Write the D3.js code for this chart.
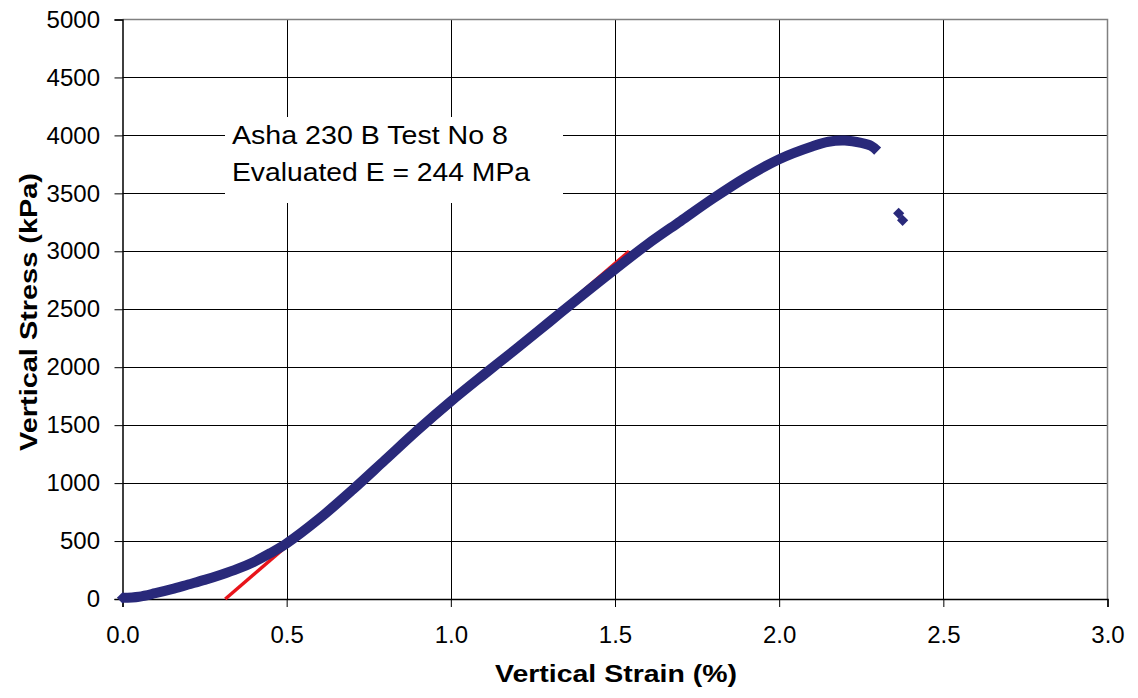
<!DOCTYPE html>
<html>
<head>
<meta charset="utf-8">
<script src="https://cdn.jsdelivr.net/npm/d3@7"></script>
<style>
  body { margin: 0; background: #fff; }
  svg { font-family: Arial, "Liberation Sans", sans-serif; }
</style>
</head>
<body>
<div id="chart"></div>
<script>
// data
var strain = [0, 0.05, 0.1, 0.15, 0.2, 0.25, 0.3, 0.35, 0.4, 0.45, 0.5, 0.6, 0.7, 0.8, 0.9,
  1.0, 1.1, 1.2, 1.3, 1.4, 1.5, 1.6, 1.7, 1.8, 1.9, 2.0, 2.1, 2.15, 2.2, 2.25, 2.28, 2.3];
var stress = [10, 20, 50, 85, 125, 165, 210, 260, 320, 395, 480, 695, 940, 1200, 1460,
  1705, 1935, 2160, 2390, 2620, 2845, 3063, 3261, 3458, 3640, 3795, 3905, 3945, 3955, 3935, 3910, 3865];
var outlierStrain = [2.364, 2.376];
var outlierStress = [3328, 3267];
var fitStrain = [0.313, 1.543];
var fitStress = [0, 3000];
var xTicks = [0, 0.5, 1.0, 1.5, 2.0, 2.5, 3.0];
var yTicks = [0, 500, 1000, 1500, 2000, 2500, 3000, 3500, 4000, 4500, 5000];
var noteLines = ["Asha 230 B Test No 8", "Evaluated E = 244 MPa"];

var width = 1138, height = 698;
var plotL = 122.5, plotR = 1107.5, plotT = 19.5, plotB = 599;

var svg = d3.select('#chart').append('svg')
    .attr('width', width)
    .attr('height', height);

var x = d3.scaleLinear().domain([0, 3]).range([plotL, plotR]);
var y = d3.scaleLinear().domain([0, 5000]).range([plotB, plotT]);

// grid
svg.append('g')
    .selectAll('line')
    .data(yTicks.slice(1, -1))
    .enter().append('line')
        .attr('x1', plotL).attr('x2', plotR)
        .attr('y1', d => Math.round(y(d)) + 0.5).attr('y2', d => Math.round(y(d)) + 0.5)
        .attr('stroke', '#000').attr('stroke-width', 1);
svg.append('g')
    .selectAll('line')
    .data(xTicks.slice(1, -1))
    .enter().append('line')
        .attr('y1', plotT).attr('y2', plotB)
        .attr('x1', d => Math.round(x(d)) + 0.5).attr('x2', d => Math.round(x(d)) + 0.5)
        .attr('stroke', '#000').attr('stroke-width', 1);

// plot frame top / right in grey
svg.append('path')
    .attr('d', `M${plotL},${plotT}H${plotR}V${plotB}`)
    .attr('fill', 'none').attr('stroke', '#808080').attr('stroke-width', 1.5);

// axes
var xAxis = svg.append('g')
    .attr('transform', `translate(0,${plotB})`)
    .call(d3.axisBottom(x).tickValues(xTicks).tickFormat(d3.format('.1f')).tickSizeOuter(0).tickSize(8).tickPadding(19));
var yAxis = svg.append('g')
    .attr('transform', `translate(${plotL},0)`)
    .call(d3.axisLeft(y).tickValues(yTicks).tickSizeOuter(0).tickSize(8).tickPadding(14.5).tickFormat(d3.format('d')));
[xAxis, yAxis].forEach(a => {
  a.select('.domain').attr('stroke', '#000').attr('stroke-width', 1.5);
  a.selectAll('.tick line').attr('stroke', '#000');
  a.selectAll('.tick text').attr('font-size', 24).attr('fill', '#000')
    .attr('font-family', 'Arial, "Liberation Sans", sans-serif');
});

// annotation box
var note = svg.append('g');
note.append('rect')
    .attr('x', 225).attr('y', 117).attr('width', 338).attr('height', 86)
    .attr('fill', '#fff');
note.selectAll('text')
    .data(noteLines)
    .enter().append('text')
        .attr('x', 232)
        .attr('y', (d, i) => 144 + i * 37)
        .attr('font-size', 25)
        .attr('textLength', (d, i) => i === 0 ? 276 : 298)
        .attr('lengthAdjust', 'spacingAndGlyphs')
        .text(d => d);

// fitted modulus line
svg.append('line')
    .attr('x1', x(fitStrain[0])).attr('y1', y(fitStress[0]))
    .attr('x2', x(fitStrain[1])).attr('y2', y(fitStress[1]))
    .attr('stroke', '#e8141a').attr('stroke-width', 3.5);

// measured curve (dense diamond markers -> thick line)
var pts = strain.map((d, i) => [d, stress[i]]);
svg.append('path')
    .datum(pts)
    .attr('d', d3.line().x(d => x(d[0])).y(d => y(d[1])).curve(d3.curveCatmullRom))
    .attr('fill', 'none')
    .attr('stroke', '#29297a')
    .attr('stroke-width', 10)
    .attr('stroke-linejoin', 'round');

var sym = d3.symbol().type(d3.symbolDiamond2).size(80);
svg.append('g')
    .selectAll('path')
    .data(outlierStrain.map((d, i) => [d, outlierStress[i]]))
    .enter().append('path')
        .attr('transform', d => `translate(${x(d[0])},${y(d[1])})`)
        .attr('d', sym)
        .attr('fill', '#29297a');
svg.append('path')
    .attr('transform', `translate(${x(strain[0])},${y(stress[0])})`)
    .attr('d', sym)
    .attr('fill', '#29297a');

// axis titles
svg.append('text')
    .attr('x', 616)
    .attr('y', 682)
    .attr('text-anchor', 'middle')
    .attr('font-size', 24).attr('font-weight', 'bold')
    .attr('textLength', 242).attr('lengthAdjust', 'spacingAndGlyphs')
    .text('Vertical Strain (%)');
svg.append('text')
    .attr('transform', 'translate(37,312) rotate(-90)')
    .attr('text-anchor', 'middle')
    .attr('font-size', 24).attr('font-weight', 'bold')
    .attr('textLength', 278).attr('lengthAdjust', 'spacingAndGlyphs')
    .text('Vertical Stress (kPa)');
</script>
</body>
</html>
